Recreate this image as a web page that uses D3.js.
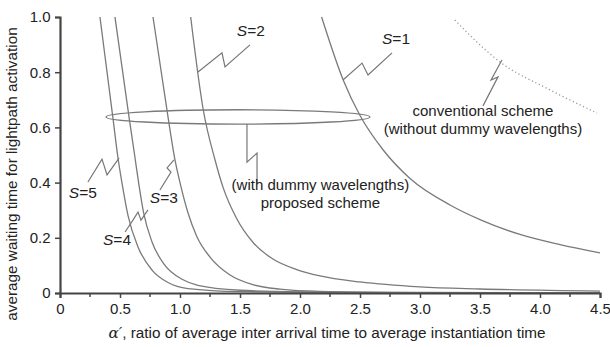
<!DOCTYPE html>
<html>
<head>
<meta charset="utf-8">
<script src="https://cdn.jsdelivr.net/npm/d3@7"></script>
<style>
  body { margin: 0; background: #fff; }
  svg text { font-family: "Liberation Sans", Arial, sans-serif; fill: #222; }
</style>
</head>
<body>
<div id="chart"></div>
<script>
// x = alpha', y = average waiting time
const xTicks = [0, 0.5, 1.0, 1.5, 2.0, 2.5, 3.0, 3.5, 4.0, 4.5];
const xMinor = [0.25, 0.75, 1.25, 1.75, 2.25, 2.75, 3.25, 3.75, 4.25];
const yTicks = [0, 0.2, 0.4, 0.6, 0.8, 1.0];

const s5 = [[0.333, 1.0], [0.44, 0.638], [0.483, 0.49], [0.52, 0.39], [0.567, 0.28], [0.65, 0.167], [0.767, 0.083], [0.9, 0.038], [1.067, 0.016], [1.5, 0.005], [2.5, 0.001], [4.5, 0]];
const s4 = [[0.458, 1.0], [0.575, 0.638], [0.625, 0.49], [0.655, 0.40], [0.697, 0.29], [0.767, 0.185], [0.875, 0.1], [1.017, 0.05], [1.15, 0.028], [1.5, 0.01], [2.0, 0.004], [3.0, 0.001], [4.5, 0]];
const s3 = [[0.775, 1.0], [0.9, 0.638], [0.955, 0.49], [1.0, 0.40], [1.067, 0.29], [1.14, 0.205], [1.25, 0.13], [1.417, 0.065], [1.608, 0.03], [1.833, 0.014], [2.167, 0.006], [3.0, 0.002], [4.5, 0.0005]];
const s2 = [[1.089, 1.0], [1.194, 0.663], [1.292, 0.482], [1.361, 0.38], [1.472, 0.27], [1.611, 0.182], [1.778, 0.122], [1.972, 0.085], [2.167, 0.062], [2.5, 0.04], [3.0, 0.022], [3.5, 0.0145], [4.5, 0.007]];
const s1 = [[2.18, 1.0], [2.36, 0.772], [2.5, 0.643], [2.69, 0.52], [2.917, 0.415], [3.25, 0.319], [3.5, 0.266], [3.833, 0.212], [4.167, 0.175], [4.5, 0.145]];
const conventional = [[3.29, 0.989], [3.667, 0.837], [4.083, 0.736], [4.475, 0.652]];

// annotation labels and zigzag leaders, in data units
const sLabels = [
  { n: 2, x: 1.59, y: 0.945 },
  { n: 1, x: 2.8, y: 0.917 },
  { n: 5, x: 0.19, y: 0.36 },
  { n: 3, x: 0.865, y: 0.34 },
  { n: 4, x: 0.475, y: 0.19 }
];
const leaders = [
  [[1.15, 0.801], [1.35, 0.870], [1.375, 0.819], [1.583, 0.899]],
  [[2.358, 0.772], [2.517, 0.833], [2.567, 0.790], [2.767, 0.870]],
  [[0.233, 0.402], [0.35, 0.485], [0.392, 0.428], [0.492, 0.489]],
  [[0.833, 0.373], [0.925, 0.438], [0.892, 0.453], [0.95, 0.482]],
  [[0.542, 0.221], [0.608, 0.264], [0.65, 0.293], [0.675, 0.264], [0.733, 0.301]],
  [[1.558, 0.612], [1.558, 0.474], [1.642, 0.507], [1.642, 0.398]],
  [[3.525, 0.678], [3.65, 0.783], [3.592, 0.772], [3.683, 0.844]]
];
const proposedText = ["(with dummy wavelengths)", "proposed scheme"];
const conventionalText = ["conventional scheme", "(without dummy wavelengths)"];

const width = 610, height = 347;
const margin = { top: 17, right: 10, bottom: 54, left: 60 };

const svg = d3.select('#chart').append('svg')
  .attr('width', width)
  .attr('height', height);

const x = d3.scaleLinear().domain([0, 4.5]).range([margin.left, width - margin.right]);
const y = d3.scaleLinear().domain([0, 1.0]).range([height - margin.bottom, margin.top]);

const line = d3.line()
  .x(d => x(d[0]))
  .y(d => y(d[1]))
  .curve(d3.curveMonotoneX);

const curveColor = '#7a7a7a';

[s5, s4, s3, s2, s1].forEach(s => {
  svg.append('path')
    .datum(s)
    .attr('fill', 'none')
    .attr('stroke', curveColor)
    .attr('stroke-width', 1.3)
    .attr('d', line);
});

svg.append('path')
  .datum(conventional)
  .attr('fill', 'none')
  .attr('stroke', '#999')
  .attr('stroke-width', 1.3)
  .attr('stroke-dasharray', '1.2,2.6')
  .attr('d', line);

// ellipse grouping the proposed curves
svg.append('ellipse')
  .attr('cx', x(1.483))
  .attr('cy', y(0.638))
  .attr('rx', x(1.1) - x(0))
  .attr('ry', y(0) - y(0.026))
  .attr('fill', 'none')
  .attr('stroke', curveColor)
  .attr('stroke-width', 1.3);

const lead = d3.line().x(d => x(d[0])).y(d => y(d[1]));
leaders.forEach(l => {
  svg.append('path')
    .attr('d', lead(l))
    .attr('fill', 'none')
    .attr('stroke', '#777')
    .attr('stroke-width', 1.2);
});

sLabels.forEach(l => {
  const t = svg.append('text')
    .attr('x', x(l.x))
    .attr('y', y(l.y))
    .attr('text-anchor', 'middle')
    .attr('dominant-baseline', 'middle')
    .style('font-size', '15.5px');
  t.append('tspan').style('font-style', 'italic').text('S');
  t.append('tspan').text('=' + l.n);
});

svg.selectAll('.prop')
  .data(proposedText)
  .enter().append('text')
  .attr('x', x(2.17))
  .attr('y', (d, i) => y(0.372) + i * 18)
  .attr('text-anchor', 'middle')
  .style('font-size', '15px')
  .text(d => d);

svg.selectAll('.conv')
  .data(conventionalText)
  .enter().append('text')
  .attr('x', x(3.525))
  .attr('y', (d, i) => y(0.64) + i * 18)
  .attr('text-anchor', 'middle')
  .style('font-size', '15px')
  .text(d => d);

// axes
const axisColor = '#444';
const gx = svg.append('g')
  .attr('transform', `translate(0,${y(0)})`)
  .call(d3.axisBottom(x).tickValues(xTicks).tickSize(5).tickFormat(d => d === 0 ? '0' : d3.format('.1f')(d)));
gx.append('g').selectAll('line')
  .data(xMinor)
  .enter().append('line')
  .attr('x1', d => x(d)).attr('x2', d => x(d))
  .attr('y1', 0).attr('y2', 4)
  .attr('stroke', axisColor).attr('stroke-width', 1.5);

const gy = svg.append('g')
  .attr('transform', `translate(${x(0)},0)`)
  .call(d3.axisLeft(y).tickValues(yTicks).tickSize(5).tickFormat(d => d === 0 ? '0' : d3.format('.1f')(d)));

[gx, gy].forEach(g => {
  g.select('.domain').attr('stroke', axisColor).attr('stroke-width', 2.2);
  g.selectAll('.tick line').attr('stroke', axisColor).attr('stroke-width', 1.5);
  g.selectAll('.tick text')
    .style('font-family', '"Liberation Sans", Arial, sans-serif')
    .style('font-size', '15px')
    .attr('fill', '#222');
});
gx.selectAll('.tick text').attr('dy', '0.85em');
gy.selectAll('.tick text').attr('dx', '-0.1em');

// axis titles
const xt = svg.append('text')
  .attr('x', 327)
  .attr('y', 338)
  .attr('text-anchor', 'middle')
  .style('font-size', '15.3px');
xt.append('tspan').style('font-style', 'italic').style('font-family', '"DejaVu Serif", serif').text('α′');
xt.append('tspan').text(', ratio of average inter arrival time to average instantiation time');

svg.append('text')
  .attr('transform', `translate(17,174) rotate(-90)`)
  .attr('text-anchor', 'middle')
  .style('font-size', '15.3px')
  .text('average waiting time for lightpath activation');
</script>
</body>
</html>
